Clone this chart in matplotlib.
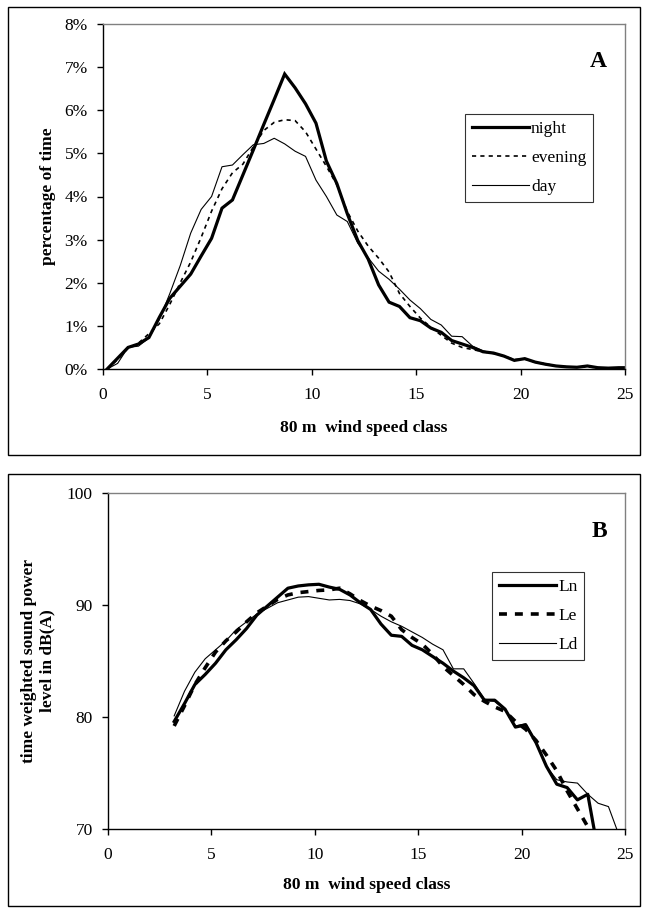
import numpy as np
import matplotlib
matplotlib.use("Agg")
import matplotlib.pyplot as plt
from matplotlib.patches import Rectangle
from matplotlib.ticker import FuncFormatter

plt.rcParams['font.family'] = ['Liberation Serif', 'DejaVu Serif']

# wind speed classes (80 m)
wind_a = [0.2, 0.7, 1.2, 1.7, 2.2, 2.7, 3.2, 3.7, 4.2, 4.7, 5.2, 5.7, 6.2, 6.7, 7.2,
          7.7, 8.2, 8.7, 9.2, 9.7, 10.2, 10.7, 11.2, 11.7, 12.2, 12.7, 13.2, 13.7,
          14.2, 14.7, 15.2, 15.7, 16.2, 16.7, 17.2, 17.7, 18.2, 18.7, 19.2, 19.7,
          20.2, 20.7, 21.2, 21.7, 22.2, 22.7, 23.2, 23.7, 24.2, 24.7, 25.2]

# percentage of time (%)
night = [0.0, 0.25, 0.50, 0.58, 0.73, 1.20, 1.64, 1.92, 2.20, 2.62, 3.03, 3.73, 3.92,
         4.50, 5.08, 5.67, 6.25, 6.84, 6.52, 6.15, 5.70, 4.82, 4.30, 3.60, 2.98, 2.55,
         1.95, 1.55, 1.45, 1.19, 1.12, 0.95, 0.85, 0.66, 0.58, 0.50, 0.40, 0.37, 0.30,
         0.20, 0.24, 0.16, 0.11, 0.07, 0.05, 0.04, 0.07, 0.03, 0.02, 0.03, 0.03]
evening = [0.0, 0.22, 0.48, 0.60, 0.82, 1.05, 1.50, 2.00, 2.48, 3.05, 3.66, 4.18, 4.55,
           4.75, 5.15, 5.53, 5.72, 5.78, 5.76, 5.50, 5.10, 4.70, 4.27, 3.65, 3.20, 2.85,
           2.57, 2.25, 1.75, 1.45, 1.18, 0.97, 0.78, 0.60, 0.50, 0.45, 0.40, 0.36, 0.30,
           0.22, 0.23, 0.16, 0.12, 0.07, 0.05, 0.04, 0.05, 0.03, 0.02, 0.02, 0.02]
day = [0.0, 0.13, 0.50, 0.53, 0.72, 1.15, 1.75, 2.40, 3.15, 3.70, 4.00, 4.69, 4.73,
       4.97, 5.20, 5.23, 5.35, 5.22, 5.05, 4.93, 4.38, 4.00, 3.57, 3.42, 2.92, 2.58,
       2.27, 2.08, 1.85, 1.60, 1.40, 1.15, 1.02, 0.76, 0.75, 0.53, 0.42, 0.37, 0.30,
       0.21, 0.24, 0.15, 0.10, 0.07, 0.05, 0.04, 0.06, 0.03, 0.02, 0.02, 0.02]

# time weighted sound power level, dB(A)
wind_b = [3.2, 3.7, 4.2, 4.7, 5.2, 5.7, 6.2, 6.7, 7.2, 7.7, 8.2, 8.7, 9.2, 9.7, 10.2,
          10.7, 11.2, 11.7, 12.2, 12.7, 13.2, 13.7, 14.2, 14.7, 15.2, 15.7, 16.2, 16.7,
          17.2, 17.7, 18.2, 18.7, 19.2, 19.7, 20.2, 20.7, 21.2, 21.7, 22.2, 22.7, 23.2,
          23.7, 24.2, 24.7]
Ln = [79.6, 81.2, 82.9, 83.8, 84.8, 86.0, 86.9, 87.9, 89.1, 89.9, 90.7, 91.5, 91.7,
      91.8, 91.85, 91.6, 91.4, 90.9, 90.2, 89.6, 88.3, 87.3, 87.2, 86.4, 86.0, 85.4,
      84.8, 84.1, 83.5, 82.8, 81.5, 81.5, 80.7, 79.1, 79.3, 77.7, 75.6, 74.0, 73.7,
      72.6, 73.1, 68.0, np.nan, np.nan]
Le = [79.2, 81.0, 82.9, 84.4, 85.8, 86.8, 87.6, 88.5, 89.3, 89.9, 90.5, 90.9, 91.1,
      91.2, 91.3, 91.35, 91.5, 91.0, 90.4, 89.9, 89.5, 89.0, 87.8, 87.1, 86.5, 85.6,
      84.5, 83.7, 82.9, 82.0, 81.4, 80.9, 80.5, 79.6, 78.9, 77.9, 76.6, 75.2, 73.4,
      71.8, 70.2, np.nan, np.nan, np.nan]
Ld = [80.1, 82.3, 84.0, 85.2, 86.0, 86.8, 87.8, 88.5, 89.2, 89.7, 90.2, 90.45, 90.7,
      90.75, 90.6, 90.45, 90.5, 90.4, 90.1, 89.6, 89.0, 88.5, 88.1, 87.6, 87.1, 86.5,
      86.0, 84.3, 84.3, 83.0, 81.6, 81.4, 80.7, 79.2, 79.4, 77.8, 75.6, 74.4, 74.2,
      74.1, 73.1, 72.3, 72.0, 69.5]

W, H = 647, 914
fig = plt.figure(figsize=(W / 100, H / 100), dpi=100)


def px_axes(left, top, right, bottom):
    return fig.add_axes([left / W, 1 - bottom / H, (right - left) / W, (bottom - top) / H])


def style_axes(ax):
    for s in ['top', 'right']:
        ax.spines[s].set_color('#808080')
        ax.spines[s].set_linewidth(1.0)
    for s in ['left', 'bottom']:
        ax.spines[s].set_color('black')
        ax.spines[s].set_linewidth(1.0)
    ax.tick_params(direction='out', length=4, width=1, labelsize=12.5, colors='black')
    ax.tick_params(axis='x', pad=9)
    ax.tick_params(axis='y', pad=7)
    ax.set_xlim(0, 25)
    ax.set_xticks([0, 5, 10, 15, 20, 25])


# outer frames of the two panels
fig.add_artist(Rectangle((8 / W, 1 - 455 / H), 632 / W, 448 / H, transform=fig.transFigure,
                         fill=False, edgecolor='black', linewidth=1.0))
fig.add_artist(Rectangle((8 / W, 1 - 906 / H), 632 / W, 432 / H, transform=fig.transFigure,
                         fill=False, edgecolor='black', linewidth=1.0))

# panel A
ax1 = px_axes(103, 24, 625, 369)
ax1.plot(wind_a, night, color='black', lw=2.3, label='night', solid_joinstyle='miter')
ax1.plot(wind_a, evening, color='black', lw=1.2, ls=(0, (2.5, 2.5)), label='evening')
ax1.plot(wind_a, day, color='black', lw=0.8, label='day')
style_axes(ax1)
ax1.set_ylim(0, 8)
ax1.set_yticks(range(0, 9))
ax1.yaxis.set_major_formatter(FuncFormatter(lambda v, p: '%d%%' % v))
ax1.set_xlabel('80 m  wind speed class', fontsize=12.5, fontweight='bold', labelpad=12)
ax1.set_ylabel('percentage of time', fontsize=12.5, fontweight='bold', labelpad=6)
ax1.text(0.965, 0.89, 'A', transform=ax1.transAxes, fontsize=17, fontweight='bold',
         ha='right', va='center')
leg1 = ax1.legend(loc='upper left', bbox_to_anchor=((465 - 103) / 522, (369 - 114) / 345),
                  frameon=True, fancybox=False, edgecolor='black', fontsize=12.5,
                  handlelength=3.3, handletextpad=0.1, borderpad=0.4, labelspacing=0.75,
                  borderaxespad=0)
leg1.get_frame().set_linewidth(0.8)

# panel B
ax2 = px_axes(108, 493, 625, 829)
ax2.plot(wind_b, Ln, color='black', lw=2.3, label='Ln')
ax2.plot(wind_b, Le, color='black', lw=2.6, ls=(0, (2.2, 2.2)), label='Le')
ax2.plot(wind_b, Ld, color='black', lw=0.8, label='Ld')
style_axes(ax2)
ax2.set_ylim(70, 100)
ax2.set_yticks([70, 80, 90, 100])
ax2.set_xlabel('80 m  wind speed class', fontsize=12.5, fontweight='bold', labelpad=10)
ax2.set_ylabel('time weighted sound power\nlevel in dB(A)', fontsize=12.5,
               fontweight='bold', labelpad=8)
ax2.text(0.965, 0.885, 'B', transform=ax2.transAxes, fontsize=17, fontweight='bold',
         ha='right', va='center')
leg2 = ax2.legend(loc='upper left', bbox_to_anchor=((492 - 108) / 517, (829 - 572) / 336),
                  frameon=True, fancybox=False, edgecolor='black', fontsize=12.5,
                  handlelength=3.3, handletextpad=0.1, borderpad=0.4, labelspacing=0.75,
                  borderaxespad=0)
leg2.get_frame().set_linewidth(0.8)

fig.savefig('out.png', dpi=100)
